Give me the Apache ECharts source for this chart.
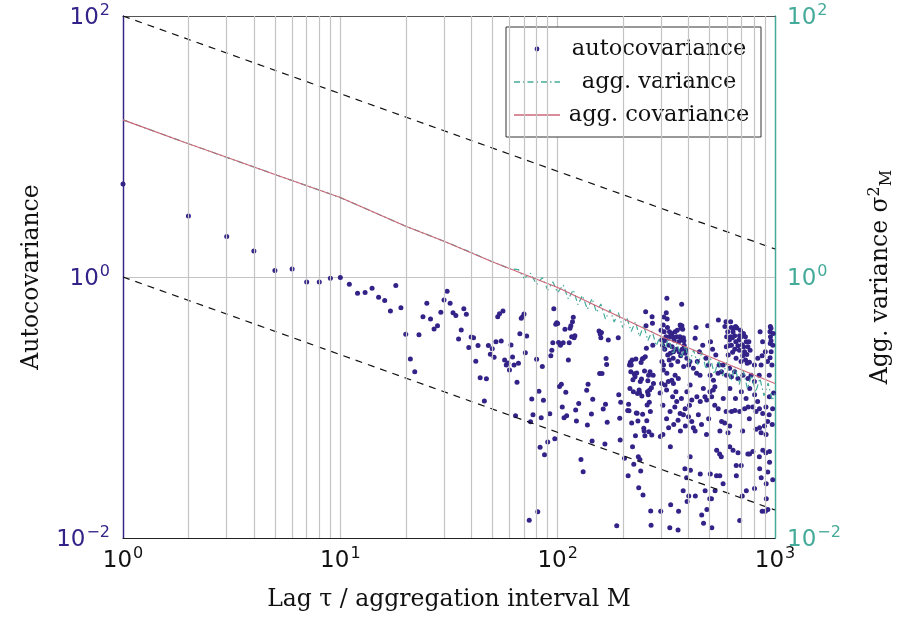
<!DOCTYPE html>
<html>
<head>
<meta charset="utf-8">
<script src="https://cdn.jsdelivr.net/npm/echarts@6/dist/echarts.min.js"></script>
<style>
html,body{margin:0;padding:0;background:#fff;}
#chart{width:906px;height:626px;}
</style>
</head>
<body>
<div id="chart"></div>
<script>
// ---------- data ----------
const xTickValues = [1, 10, 100, 1000];
const minorGridLags = [2,3,4,5,6,7,8,9,20,30,40,50,60,70,80,90,200,300,400,500,600,700,800,900];

// autocovariance (positive values only), [lag, value]
const acovLow = [
[1,5.16],[2,2.93],[3,2.04],[4,1.58],[5,1.12],[6,1.15],[7,0.916],[8,0.916],[9,0.98],[10,0.99],
[11,0.88],[12,0.75],[13,0.76],[14,0.82],[15,0.70],[16,0.66],[17,0.55],[18,0.86],[19,0.58],
[20,0.364],[21,0.235],[22,0.188],[23,0.361],[24,0.497],[25,0.628],[26,0.476],[27,0.40],[28,0.424],[29,0.536],
[30,0.667],[31,0.776],[32,0.628],[33,0.533],[34,0.506],[35,0.335],[36,0.393],[37,0.571],[38,0.518],[39,0.288],
[40,0.347],[41,0.343],[42,0.226],[43,0.298],[44,0.169],[46,0.112],[47,0.166],[48,0.298],[49,0.256],
[50,0.282],[51,0.243],[52,0.319],[53,0.497],[54,0.524],[55,0.323],[56,0.55],[57,0.231],[58,0.212],[59,0.219],
[60,0.194],[61,0.301],[62,0.244],[63,0.212],[64,0.0865],[65,0.156],[66,0.218],[67,0.368],[68,0.482],[69,0.497],
[70,0.521],[71,0.263],[72,0.353],[74,0.0137],[75,0.0778],[76,0.116],[77,0.088],[80,0.234],[81,0.0159],[82,0.133],
[83,0.0495],[84,0.0835],[85,0.206],[86,0.1135],[87,0.0435],[90,0.0545],[92,0.0897],[93,0.249],[94,0.274],[95,0.314],
[96,0.571],[97,0.0577],[98,0.434],[99,0.446]
];
const acovMid = [
[100,0.44],[101,0.315],[102,0.145],[103,0.30],[104,0.151],[105,0.101],[106,0.314],[107,0.0836],[108,0.397],[109,0.131],
[110,0.0865],[112,0.231],[113,0.314],[114,0.405],[115,0.424],[116,0.349],[117,0.455],[118,0.491],[119,0.343],[120,0.355],
[121,0.0957],[122,0.0789],[125,0.1075],[128,0.040],[131,0.0322],[136,0.1355],[137,0.0735],[138,0.151],[143,0.089],[144,0.0554],
[145,0.1156],[155,0.385],[156,0.182],[157,0.365],[158,0.343],[159,0.375],[160,0.182],[162,0.0975],[165,0.0525],[166,0.106],
[167,0.237],[168,0.214],[169,0.077],[171,0.329],[187,0.0124],[190,0.343],[191,0.125],[193,0.0826],[194,0.0564],[195,0.1095],
[203,0.0408],[210,0.095],[211,0.030],[212,0.106],[213,0.0945],[214,0.212],[215,0.140],[216,0.222],[217,0.188],[218,0.212],
[219,0.076],[220,0.231],[221,0.050],[222,0.163],[223,0.132],[224,0.0367],[225,0.181],[227,0.172],[228,0.0608],[229,0.235],
[230,0.0908],[231,0.184],[232,0.0905],[233,0.128],[234,0.0789],[235,0.042],[236,0.0243],[237,0.136],[238,0.130],[239,0.040],
[240,0.158],[241,0.0326],[242,0.221],[243,0.165],[244,0.1225],[245,0.235],[246,0.0887],[247,0.0214],[248,0.238],[249,0.0692],
[250,0.066],[251,0.1905],[252,0.0608],[253,0.245],[254,0.542],[255,0.424],[256,0.284],[257,0.079],[258,0.1045],[259,0.132],
[260,0.160],[261,0.125],[262,0.177],[263,0.0653],[264,0.1095],[265,0.136],[266,0.188],[267,0.093],[268,0.0161],[269,0.0125],
[270,0.142],[271,0.0615],[272,0.497],[273,0.442],[274,0.30],[275,0.177],[276,0.153]
];
const acovHigh = [
[318,0.687],[316,0.533],[308,0.494],[319,0.477],[306,0.428],[309,0.381],[320,0.411],[327,0.381],[301,0.329],[310,0.325],
[315,0.349],[323,0.339],[329,0.352],[335,0.369],[339,0.349],[372,0.618],[366,0.428],[373,0.423],[369,0.407],[376,0.397],
[365,0.349],[379,0.343],[370,0.329],[381,0.325],[347,0.381],[353,0.349],[343,0.329],[336,0.292],[341,0.268],[330,0.261],
[352,0.279],[362,0.268],[368,0.249],[386,0.261],[393,0.238],[433,0.411],[490,0.423],[549,0.469],[595,0.455],[625,0.455],
[629,0.411],[641,0.381],[645,0.407],[659,0.418],[668,0.407],[627,0.349],[637,0.343],[652,0.355],[687,0.355],[699,0.349],
[597,0.292],[612,0.297],[630,0.300],[653,0.279],[675,0.297],[706,0.303],[737,0.319],[750,0.292],[724,0.268],[742,0.255],
[711,0.249],[763,0.222],[732,0.231],[745,0.218],[854,0.381],[872,0.249],[863,0.212],[952,0.418],[958,0.405],[948,0.381],
[953,0.349],[959,0.325],[951,0.31],[960,0.268],[949,0.241],[985,0.129],
[299,0.39],[304,0.30],[311,0.279],[321,0.252],[326,0.231],[333,0.212],[302,0.225],[307,0.212],[340,0.238],[325,0.30],
[355,0.39],[361,0.319],[382,0.30],[390,0.274],[374,0.279],[401,0.212],[406,0.225],[357,0.225],[380,0.206],
[429,0.339],[449,0.268],[465,0.30],[481,0.238],[494,0.212],[516,0.279],[534,0.252],[553,0.212],[439,0.225],[505,0.319],
[588,0.418],[606,0.381],[617,0.329],[660,0.319],[683,0.329],[693,0.39],[716,0.369],[731,0.349],[758,0.319],[609,0.252],
[638,0.265],[662,0.238],[698,0.225],[717,0.292],[768,0.274],[599,0.349],[686,0.274],
[804,0.212],[833,0.238],[877,0.319],[902,0.268],[924,0.225],[968,0.212],[977,0.30],[981,0.369],[846,0.177],[941,0.177],
[306,0.194],[318,0.183],[301,0.153],[312,0.149],[323,0.158],[335,0.162],[341,0.153],[296,0.129],[317,0.136],[347,0.177],
[359,0.167],[350,0.132],[338,0.121],[353,0.111],[329,0.093],[305,0.062],[324,0.070],[342,0.074],[358,0.080],[366,0.090],
[379,0.088],[386,0.098],[400,0.085],[414,0.078],[421,0.070],[387,0.072],[429,0.066],[393,0.132],[407,0.149],[421,0.200],
[436,0.183],[452,0.177],[414,0.114],[437,0.121],[453,0.111],[468,0.140],[476,0.121],[485,0.114],[502,0.132],[511,0.121],
[520,0.136],[529,0.144],[503,0.177],[521,0.162],[547,0.183],[567,0.188],[577,0.212],[598,0.177],[618,0.200],[630,0.172],
[652,0.188],[675,0.167],[712,0.177],[751,0.167],[776,0.177],[804,0.158],[548,0.098],[568,0.078],[587,0.076],[608,0.064],
[619,0.072],[631,0.093],[654,0.095],[688,0.093],[725,0.098],[752,0.101],[790,0.101],[818,0.093],[848,0.098],[878,0.090],
[909,0.101],[942,0.121],[975,0.098],[925,0.078],[894,0.072],[849,0.070],[819,0.068],[863,0.064],[910,0.062],
[305,0.104],[317,0.082],[346,0.101],[371,0.117],[404,0.104],[444,0.088],[459,0.074],[495,0.082],[528,0.104],[578,0.117],
[596,0.093],[658,0.117],[700,0.132],[736,0.117],[762,0.082],[806,0.125],[832,0.111],[940,0.088],[971,0.074],[558,0.066],
[710,0.066],[620,0.140],[765,0.140],[367,0.066],[484,0.062],
[330,0.050],[297,0.060],[407,0.042],[408,0.033],[385,0.034],[392,0.029],[378,0.023],[401,0.021],[430,0.021],[394,0.019],
[331,0.018],[360,0.016],[298,0.016],[328,0.012],[358,0.0115],[453,0.031],[460,0.015],[477,0.023],[486,0.0165],[469,0.013],
[512,0.012],[504,0.031],[501,0.020],[530,0.023],[510,0.020],[538,0.030],[557,0.030],[556,0.044],[566,0.042],[539,0.047],
[577,0.026],[619,0.050],[641,0.047],[676,0.045],[663,0.036],[664,0.030],[699,0.036],[707,0.021],[688,0.0136],[738,0.023],
[750,0.044],[764,0.044],[791,0.046],[805,0.024],[847,0.042],[850,0.034],[864,0.029],[879,0.047],[908,0.045],[943,0.046],
[926,0.032],[911,0.026],[912,0.020],[873,0.016],[903,0.016],[944,0.038],[976,0.028],[927,0.0165]
];

// aggregated covariance (smooth) [M, value]
const aggCovariance = [
[1,16.0],[2,10.5],[3,8.26],[5,6.1],[10,4.06],[20,2.45],[30,1.88],[50,1.31],[100,0.832],[200,0.481],[300,0.35],[500,0.245],[1000,0.153]
];
// aggregated variance (noisy at large M) [M, value]
const aggVariance = [
[1,16.0],[2,10.5],[3,8.26],[5,6.1],[10,4.06],[20,2.45],[30,1.88],[40,1.54],[50,1.31],[60,1.16],
[66,1.14],[70,0.98],[75,1.07],[80,0.876],[85,0.99],[90,0.794],[95,0.92],[100,0.759],[106,0.87],[112,0.677],
[118,0.80],[124,0.612],[130,0.724],[137,0.565],[144,0.684],[151,0.536],[158,0.621],[166,0.475],[174,0.562],[182,0.452],
[190,0.537],[199,0.411],[208,0.489],[218,0.383],[228,0.455],[238,0.349],[249,0.425],[260,0.326],[272,0.386],[284,0.297],
[297,0.352],[310,0.276],[324,0.338],[339,0.255],[354,0.311],[370,0.240],[387,0.299],[404,0.221],[422,0.276],[441,0.213],
[461,0.265],[482,0.196],[503,0.244],[526,0.180],[550,0.230],[574,0.174],[600,0.222],[627,0.160],[655,0.204],[684,0.150],
[715,0.192],[747,0.139],[780,0.177],[815,0.131],[852,0.167],[890,0.123],[930,0.154],[970,0.113],[1000,0.128]
];
// reference power-law guide lines
const guideUpper = [[1,100],[1000,1.64]];
const guideLower = [[1,1],[1000,0.0164]];

// ---------- styling ----------
const INDIGO = '#332288', TEAL = '#44AA99', ROSE = '#CC6677';
const SERIF = '"DejaVu Serif", serif';
const SANS = '"DejaVu Sans", sans-serif';
function expLabel(v) {
  const e = Math.round(Math.log10(v));
  return '{b|10}{s|' + (e < 0 ? '\u2212' + (-e) : e) + '}';
}
function richFor(color) {
  return {
    b: {fontSize: 23, fontFamily: SANS, color: color, verticalAlign: 'bottom', lineHeight: 27},
    s: {fontSize: 16, fontFamily: SANS, color: color, verticalAlign: 'top', lineHeight: 27, padding: [0,0,11,1]}
  };
}
function svgIcon(inner) {
  return 'image://data:image/svg+xml;utf8,' + encodeURIComponent(
    '<svg xmlns="http://www.w3.org/2000/svg" width="46" height="14">' + inner + '</svg>');
}
const dotIcon = svgIcon('<circle cx="23" cy="7" r="2.4" fill="' + INDIGO + '"/>');
const dashDotIcon = svgIcon('<line x1="0" y1="7" x2="46" y2="7" stroke="' + TEAL + '" stroke-width="1.3" stroke-dasharray="6 3 1.5 3"/>');
const solidIcon = svgIcon('<line x1="0" y1="7" x2="46" y2="7" stroke="' + ROSE + '" stroke-width="1.3"/>');

const chart = echarts.init(document.getElementById('chart'), null, {renderer: 'canvas'});
const option = {
  animation: false,
  backgroundColor: '#fff',
  grid: {left: 123, right: 131, top: 16, bottom: 88, show: false},
  legend: {
    left: 506, top: 27, orient: 'vertical',
    padding: [10, 8, 10, 8], itemGap: 9, itemWidth: 46, itemHeight: 14,
    borderColor: '#333', borderWidth: 1, backgroundColor: '#fff',
    data: [
      {name: 'autocovariance', icon: dotIcon},
      {name: 'agg. variance', icon: dashDotIcon},
      {name: 'agg. covariance', icon: solidIcon}
    ],
    formatter: n => '{t|' + n + '}',
    textStyle: {rich: {t: {fontSize: 22.5, fontFamily: SERIF, color: '#111', width: 188, align: 'center', height: 24, lineHeight: 24}}}
  },
  xAxis: [
    {
      type: 'log', logBase: 10, min: 1, max: 1000, interval: 1, position: 'bottom',
      name: 'Lag \u03c4 / aggregation interval M', nameLocation: 'middle', nameGap: 50,
      nameTextStyle: {fontSize: 23.5, fontFamily: SERIF, color: '#111'},
      axisLine: {show: true, lineStyle: {color: '#222', width: 1.2}},
      axisTick: {show: false},
      axisLabel: {margin: 8, formatter: expLabel, rich: richFor('#111'), customValues: xTickValues},
      splitLine: {show: true, lineStyle: {color: '#c4c4c4', width: 1.2}}
    },
    {
      type: 'log', logBase: 10, min: 1, max: 1000, interval: 1, position: 'top',
      axisLine: {show: true, lineStyle: {color: '#555', width: 1.2}},
      axisTick: {show: false}, axisLabel: {show: false}, splitLine: {show: false}
    }
  ],
  yAxis: [
    {
      type: 'log', logBase: 10, min: 0.01, max: 100, interval: 2, position: 'left',
      name: 'Autocovariance', nameLocation: 'middle', nameGap: 79, nameRotate: 90,
      nameTextStyle: {fontSize: 23.5, fontFamily: SERIF, color: '#111'},
      axisLine: {show: true, lineStyle: {color: INDIGO, width: 1.4}},
      axisTick: {show: false},
      axisLabel: {margin: 13, formatter: expLabel, rich: richFor(INDIGO)},
      splitLine: {show: true, lineStyle: {color: '#c4c4c4', width: 1.2}}
    },
    {
      type: 'log', logBase: 10, min: 0.01, max: 100, interval: 2, position: 'right',
      name: 'Agg. variance \u03c3{sup|2}{sub|M}', nameLocation: 'middle', nameGap: 92, nameRotate: 90,
      nameTextStyle: {fontSize: 23.5, fontFamily: SERIF, color: '#111',
        rich: {sup: {fontSize: 16, fontFamily: SERIF, color: '#111', verticalAlign: 'top', padding: [0,0,12,0]},
               sub: {fontSize: 16, fontFamily: SERIF, color: '#111', verticalAlign: 'bottom', padding: [8,0,0,0]}}},
      axisLine: {show: true, lineStyle: {color: TEAL, width: 1.4}},
      axisTick: {show: false},
      axisLabel: {margin: 12, formatter: expLabel, rich: richFor(TEAL)},
      splitLine: {show: false}
    }
  ],
  series: [
    {
      name: 'gridMinor', type: 'line', data: [], silent: true,
      markLine: {silent: true, symbol: 'none', label: {show: false},
        lineStyle: {color: '#c4c4c4', width: 1.2, type: 'solid'},
        data: minorGridLags.map(v => ({xAxis: v}))}
    },
    {
      name: 'guideUpper', type: 'line', data: guideUpper, symbol: 'none', silent: true,
      lineStyle: {color: '#111', width: 1.2, type: [7, 6]}
    },
    {
      name: 'guideLower', type: 'line', data: guideLower, symbol: 'none', silent: true,
      lineStyle: {color: '#111', width: 1.2, type: [7, 6]}
    },
    {
      name: 'autocovariance', type: 'scatter', data: acovLow.concat(acovMid, acovHigh),
      symbol: 'circle', symbolSize: 5, itemStyle: {color: INDIGO, opacity: 1}
    },
    {
      name: 'agg. variance', type: 'line', yAxisIndex: 1, data: aggVariance, symbol: 'none',
      lineStyle: {color: TEAL, width: 1.2, type: [6, 3, 1.5, 3]}, itemStyle: {color: TEAL}
    },
    {
      name: 'agg. covariance', type: 'line', yAxisIndex: 1, data: aggCovariance, symbol: 'none',
      lineStyle: {color: ROSE, width: 1.1}, itemStyle: {color: ROSE}
    }
  ]
};
chart.setOption(option);
</script>
</body>
</html>
